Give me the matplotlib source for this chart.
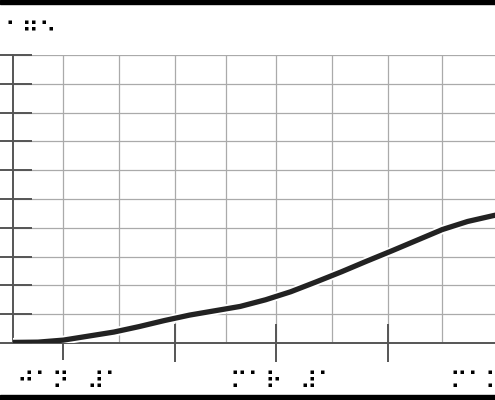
import matplotlib
matplotlib.use('Agg')
import matplotlib.pyplot as plt
import matplotlib.dates as mdates
import matplotlib.lines as mlines
import matplotlib.patheffects as pe
import matplotlib.transforms as mtransforms
from matplotlib.patches import Rectangle
import numpy as np
import pandas as pd

# Data
dates = pd.to_datetime([
    '2020-12-18', '2020-12-25', '2021-01-01', '2021-01-08', '2021-01-15',
    '2021-01-22', '2021-01-29', '2021-02-05', '2021-02-12', '2021-02-19',
    '2021-02-26', '2021-03-05', '2021-03-12', '2021-03-19', '2021-03-26',
    '2021-04-02', '2021-04-09', '2021-04-16', '2021-04-23', '2021-04-30',
    '2021-05-07',
])
values = [0.02, 0.03, 0.10, 0.24, 0.38, 0.57, 0.78, 0.97, 1.12, 1.27,
          1.50, 1.78, 2.12, 2.47, 2.84, 3.20, 3.57, 3.94, 4.22, 4.42, 4.60]

title_text = '⠁⠛⠑'
month_starts = pd.to_datetime(['2021-01-01', '2021-02-01', '2021-03-01',
                               '2021-04-01', '2021-05-01', '2021-06-01'])
month_labels = ['⠚⠁⠝⠀⠼⠁', '', '⠍⠁⠗⠀⠼⠁', '', '⠍⠁⠽⠀⠼⠁', '']
y_ticks = list(range(0, 11))

# Figure
W, H = 495, 400
fig = plt.figure(figsize=(W / 100, H / 100), dpi=100)
fig.patch.set_facecolor('white')

x0_px, x1_px = 12.8, 521.8
y_top_px, y_bot_px = 55, 343
ax = fig.add_axes([x0_px / W, 1 - y_bot_px / H,
                   (x1_px - x0_px) / W, (y_bot_px - y_top_px) / H])
ax.set_facecolor('white')

# Line with white halo
ax.plot(dates, values, color='#222222', lw=3.8, solid_capstyle='butt',
        path_effects=[pe.Stroke(linewidth=6.5, foreground='white'), pe.Normal()],
        zorder=3)

ax.set_xlim(pd.Timestamp('2020-12-18'), pd.Timestamp('2021-05-08'))
ax.set_ylim(0, 10)

# Ticks and grid
month_nums = mdates.date2num(month_starts)
mid_nums = (month_nums[:-1] + month_nums[1:]) / 2
ax.xaxis.set_major_locator(matplotlib.ticker.FixedLocator(month_nums))
ax.xaxis.set_major_formatter(matplotlib.ticker.FixedFormatter(month_labels))
ax.xaxis.set_minor_locator(matplotlib.ticker.FixedLocator(mid_nums))
ax.set_yticks(y_ticks)
ax.set_yticklabels([])

ax.grid(True, which='both', color='#aaaaaa', lw=0.9, zorder=0)
ax.set_axisbelow(True)

ax.tick_params(axis='x', which='major', direction='inout', length=27,
               width=1.4, color='#555555', pad=6, labelsize=17.2)
ax.tick_params(axis='x', which='minor', length=0)
ax.tick_params(axis='y', direction='inout', length=27.5, width=1.4,
               color='#555555', labelleft=False)

# nudge the braille labels a little to the right
shift = mtransforms.ScaledTranslation(6 / 100, 0, fig.dpi_scale_trans)
for lbl in ax.get_xticklabels():
    lbl.set_fontfamily('DejaVu Sans')
    lbl.set_transform(lbl.get_transform() + shift)

for side in ['top', 'right']:
    ax.spines[side].set_visible(False)
for side in ['left', 'bottom']:
    ax.spines[side].set_color('#555555')
    ax.spines[side].set_linewidth(1.4)

# Jan tick only goes downward
jan_tick = ax.xaxis.get_major_ticks()[0]
jan_tick.tick1line.set_marker(mlines.TICKDOWN)
jan_tick.tick1line.set_markersize(12.5)

# Title
fig.text(4 / W, 1 - 20 / H, title_text, fontsize=17.2, va='top', ha='left',
         family='DejaVu Sans')

# Black bars at top and bottom edges
fig.patches.append(Rectangle((0, 1 - 4 / H), 1, 4 / H, transform=fig.transFigure,
                             color='black', zorder=10))
fig.patches.append(Rectangle((0, 0), 1, 5 / H, transform=fig.transFigure,
                             color='black', zorder=10))

fig.savefig('out.png', dpi=100)
